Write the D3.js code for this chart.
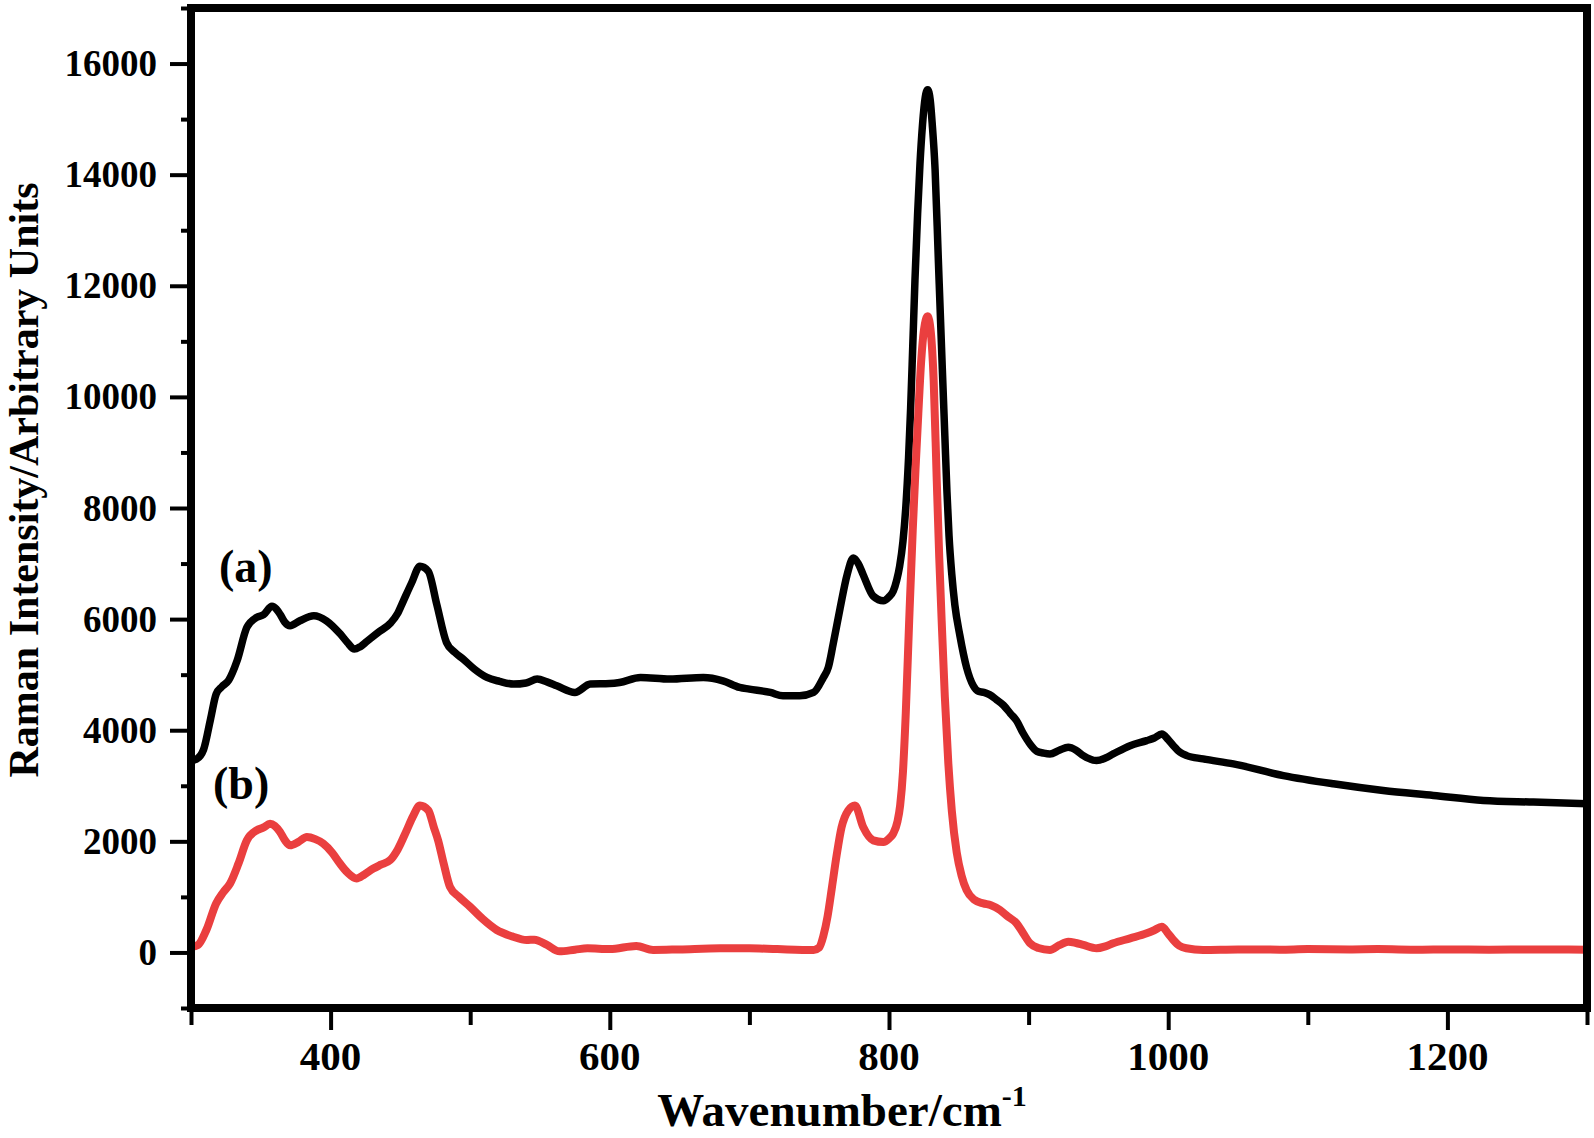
<!DOCTYPE html>
<html>
<head>
<meta charset="utf-8">
<script src="https://cdn.jsdelivr.net/npm/d3@7"></script>
<style>
  html, body { margin: 0; padding: 0; background: #fff; }
  svg { display: block; }
  text { font-family: "Liberation Serif", "Times New Roman", serif; font-weight: bold; fill: #000; }
</style>
</head>
<body>
<svg id="chart" width="1594" height="1138"></svg>
<script>
// ---- data ----
const aWavenumber = [300,304,309,314,318,322,327,333,340,347,352,358,364,367,371,378,388,397,407,412,417,421,426,434,443,448,452,458,464,470,476,483,489,495,503,512,521,531,540,548,555,562,575,586,600,607,622,643,667,681,693,700,715,724,736,746,753,756.5,760,765,770,774.4,778,781.5,788.7,796,800,803,805.5,807.6,810,812,814,815.5,817,818.6,820.5,822.2,824,826,827.7,829.5,831,833,835.3,838.2,840,841.5,843,845,847.2,850.8,855.6,860.4,864,868,872,877,882,887,891.4,896,901,906,910.5,915.3,922,928.4,934,939.2,948.7,955,960.6,972.7,984.6,990,995.4,1000,1003.7,1008.5,1013.3,1025,1046.7,1082.5,1118.3,1154,1190,1225.8,1261.6,1300];
const aIntensity = [3450,3480,3650,4200,4650,4780,4900,5250,5850,6030,6080,6230,6080,5950,5880,5970,6060,5970,5730,5580,5460,5500,5600,5760,5930,6100,6320,6650,6950,6860,6270,5580,5400,5280,5100,4950,4880,4830,4850,4920,4870,4800,4680,4830,4840,4860,4950,4920,4950,4890,4770,4740,4680,4620,4620,4680,4950,5128,5550,6200,6800,7100,7000,6800,6414,6330,6400,6500,6700,6950,7400,8000,8900,9800,10900,12100,13300,14200,14900,15400,15530,15350,14900,14100,12500,10500,9300,8300,7500,6800,6250,5700,5127,4800,4700,4680,4640,4550,4450,4300,4171,3950,3753,3620,3590,3573,3640,3692,3640,3543,3453,3500,3573,3722,3812,3860,3932,3830,3722,3603,3543,3484,3394,3184,3035,2915,2826,2736,2706,2676];

const bWavenumber = [300,305,311,318,323,328,334,340,347,352,356.6,360,363.8,367,371,377,383,389,394.8,401,406.7,412,418.6,424,430.6,436,442.6,448,454.5,459,464,470,474,477,481,485.5,492,499.9,509,519,530,540.5,546,555,564,575,584,600,619,631,650,679,700,720,746,750,753,756,759,762.5,766,770.8,775.6,781.5,788.7,796,800,803,806,808,810,812,814.5,817,819,821,823,825,827.7,830,832,834.2,836,838,840,842.5,845,848.5,852,855.6,861,867.5,873,879.5,885,891.4,896,901,907,915.3,922,928.4,934,939.2,948.7,955,960.6,972.7,984.6,990,995.4,1000,1003.7,1008,1013,1025,1050,1080,1100,1130,1150,1180,1200,1230,1260,1300];
const bIntensity = [100,135,404,883,1080,1241,1600,2018,2198,2250,2318,2280,2168,2030,1929,1990,2078,2040,1959,1800,1600,1440,1331,1400,1510,1580,1660,1850,2198,2450,2646,2557,2250,2018,1600,1181,1000,822,600,404,290,224,230,135,20,50,75,60,117,45,55,75,75,60,45,90,300,650,1150,1750,2250,2557,2646,2257,2018,1988,2050,2138,2350,2650,3250,4300,6000,7600,8700,9700,10628,11200,11450,11150,10300,8500,7100,5800,4600,3400,2550,1800,1380,1120,950,883,850,763,650,524,350,165,80,45,130,194,170,135,75,110,165,254,344,400,463,340,224,120,75,45,55,50,60,55,60,50,55,50,55,50];

const xMajorTicks = [400, 600, 800, 1000, 1200];
const xMinorTicks = [300, 500, 700, 900, 1100, 1300];
const yMajorTicks = [0, 2000, 4000, 6000, 8000, 10000, 12000, 14000, 16000];
const yMinorTicks = [-1000, 1000, 3000, 5000, 7000, 9000, 11000, 13000, 15000, 17000];
const xTitle = "Wavenumber/cm";
const xTitleSup = "-1";
const yTitle = "Raman Intensity/Arbitrary Units";
const seriesLabels = ["(a)", "(b)"];

// ---- layout ----
const svg = d3.select("#chart");
const mLeft = 191, mRight = 1587, mTop = 8, mBottom = 1008;

const x = d3.scaleLinear().domain([300, 1300]).range([mLeft, mRight]);
const y = d3.scaleLinear().domain([-1000, 17000]).range([mBottom, mTop]);

svg.append("defs").append("clipPath").attr("id", "clip")
  .append("rect").attr("x", mLeft).attr("y", mTop).attr("width", mRight - mLeft).attr("height", mBottom - mTop);

const line = d3.line().x(d => x(d[0])).y(d => y(d[1])).curve(d3.curveMonotoneX);

const dataA = aWavenumber.map((w, i) => [w, aIntensity[i]]);
const dataB = bWavenumber.map((w, i) => [w, bIntensity[i]]);

const g = svg.append("g").attr("clip-path", "url(#clip)");
g.append("path").datum(dataA).attr("d", line)
  .attr("fill", "none").attr("stroke", "#000").attr("stroke-width", 7.5)
  .attr("stroke-linejoin", "round").attr("stroke-linecap", "round");
g.append("path").datum(dataB).attr("d", line)
  .attr("fill", "none").attr("stroke", "#EA3F3F").attr("stroke-width", 8)
  .attr("stroke-linejoin", "round").attr("stroke-linecap", "round");

function styleAxis(sel) {
  sel.select(".domain").remove();
  sel.selectAll(".tick line").attr("stroke", "#000").attr("stroke-width", 4);
  sel.selectAll(".tick text").remove();
}
svg.append("g").attr("transform", `translate(${mLeft},0)`)
  .call(d3.axisLeft(y).tickValues(yMajorTicks).tickSize(21)).call(styleAxis);
svg.append("g").attr("transform", `translate(${mLeft},0)`)
  .call(d3.axisLeft(y).tickValues(yMinorTicks).tickSize(10)).call(styleAxis);
svg.append("g").attr("transform", `translate(0,${mBottom})`)
  .call(d3.axisBottom(x).tickValues(xMajorTicks).tickSize(22)).call(styleAxis);
svg.append("g").attr("transform", `translate(0,${mBottom})`)
  .call(d3.axisBottom(x).tickValues(xMinorTicks).tickSize(17)).call(styleAxis);

svg.append("rect").attr("x", mLeft).attr("y", mTop)
  .attr("width", mRight - mLeft).attr("height", mBottom - mTop)
  .attr("fill", "none").attr("stroke", "#000").attr("stroke-width", 8);

svg.append("g").selectAll("text").data(yMajorTicks).join("text")
  .attr("x", 157).attr("y", d => y(d)).attr("dy", "0.34em")
  .attr("text-anchor", "end").attr("font-size", 37)
  .text(d => d);
svg.append("g").selectAll("text").data(xMajorTicks).join("text")
  .attr("x", d => x(d)).attr("y", 1070)
  .attr("text-anchor", "middle").attr("font-size", 41)
  .text(d => d);

const xt = svg.append("text").attr("x", 842).attr("y", 1126)
  .attr("text-anchor", "middle").attr("font-size", 47);
xt.append("tspan").text(xTitle);
xt.append("tspan").attr("font-size", 30).attr("dy", -20).text(xTitleSup);

svg.append("text")
  .attr("transform", "translate(38,480) rotate(-90)")
  .attr("text-anchor", "middle").attr("font-size", 42)
  .text(yTitle);

svg.append("text").attr("x", 219).attr("y", 582).attr("font-size", 46).text(seriesLabels[0]);
svg.append("text").attr("x", 213).attr("y", 799).attr("font-size", 46).text(seriesLabels[1]);
</script>
</body>
</html>
